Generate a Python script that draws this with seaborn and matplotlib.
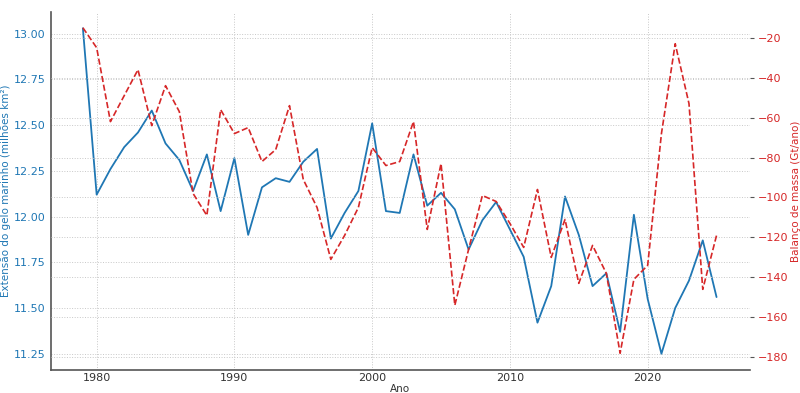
import pandas as pd
import matplotlib
matplotlib.use("Agg")
from matplotlib import pyplot as plt
import seaborn as sns

years = list(range(1979, 2026))
sea_ice = [
    13.03, 12.12, 12.26, 12.38, 12.46, 12.58, 12.40, 12.31, 12.14, 12.34,
    12.03, 12.32, 11.90, 12.16, 12.21, 12.19, 12.30, 12.37, 11.88, 12.02,
    12.14, 12.51, 12.03, 12.02, 12.34, 12.06, 12.13, 12.04, 11.82, 11.98,
    12.08, 11.93, 11.78, 11.42, 11.62, 12.11, 11.90, 11.62, 11.69, 11.37,
    12.01, 11.55, 11.25, 11.50, 11.65, 11.87, 11.56,
]
mass_balance = [
    -15, -25, -62, -49, -36, -64, -44, -57, -98, -109,
    -56, -68, -65, -82, -76, -54, -91, -105, -131, -119,
    -105, -75, -84, -82, -62, -116, -83, -154, -126, -99,
    -102, -113, -125, -96, -130, -111, -143, -124, -138, -178,
    -141, -134, -68, -23, -53, -146, -119,
]

df = pd.DataFrame({"Ano": years, "gelo": sea_ice, "massa": mass_balance})

blue = "#1f77b4"
red = "#d62728"

sns.set_style("ticks")
plt.rcParams["font.family"] = ["DejaVu Sans"]

fig, ax1 = plt.subplots(figsize=(8, 3.93), dpi=100)
fig.subplots_adjust(left=0.064, right=0.937, top=0.97, bottom=0.058)

sns.lineplot(data=df, x="Ano", y="gelo", ax=ax1, color=blue, linewidth=1.3)
ax1.set_xlabel("Ano", fontsize=7.5, color="#333333", labelpad=1)
ax1.set_ylabel("Extensão do gelo marinho (milhões km²)", fontsize=7.5,
               color=blue, labelpad=2)
ax1.tick_params(axis="y", labelcolor=blue, labelsize=8, length=0, pad=4)
ax1.tick_params(axis="x", labelsize=8, labelcolor="#333333", length=0, pad=2)
ax1.set_yticks([11.25, 11.5, 11.75, 12.0, 12.25, 12.5, 12.75, 13.0])
ax1.set_ylim(11.16, 13.12)
ax1.set_xlim(1976.7, 2027.4)
ax1.set_xticks([1980, 1990, 2000, 2010, 2020])
ax1.grid(True, linestyle=":", color="#c8c8c8", linewidth=0.7)
for s in ["top", "right"]:
    ax1.spines[s].set_visible(False)
for s in ["left", "bottom"]:
    ax1.spines[s].set_color("#555555")
    ax1.spines[s].set_linewidth(1.2)

ax2 = ax1.twinx()
sns.lineplot(data=df, x="Ano", y="massa", ax=ax2, color=red, linewidth=1.2,
             linestyle="--")
ax2.set_ylabel("Balanço de massa (Gt/ano)", fontsize=7.5, color=red, labelpad=2)
ax2.tick_params(axis="y", labelcolor=red, labelsize=8, length=3,
                color="#555555", pad=3)
ax2.set_yticks([-180, -160, -140, -120, -100, -80, -60, -40, -20])
ax2.set_ylim(-186.5, -7)
ax2.grid(True, axis="y", linestyle=":", color="#c8c8c8", linewidth=0.7)
for s in ax2.spines.values():
    s.set_visible(False)

plt.savefig("out.png", dpi=100)
